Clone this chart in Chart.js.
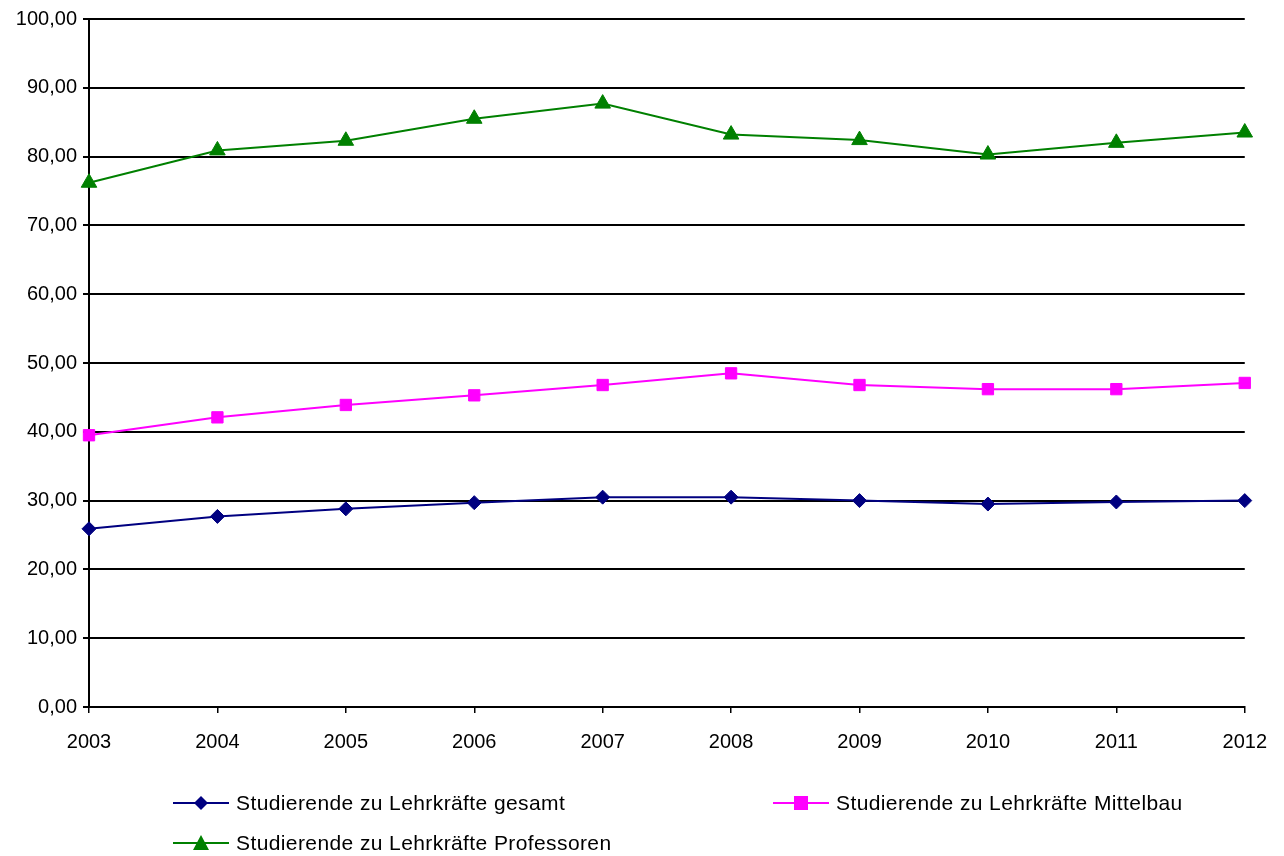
<!DOCTYPE html>
<html>
<head>
<meta charset="utf-8">
<script src="https://cdn.jsdelivr.net/npm/chart.js@4.4.1/dist/chart.umd.min.js"></script>
<style>
  html, body { margin: 0; padding: 0; background: #fff; }
  #wrap { position: relative; width: 1284px; height: 856px; }
  #legend { position: absolute; left: 0; top: 0; width: 1284px; height: 856px; pointer-events: none;
    font-family: Arial, "Liberation Sans", sans-serif; font-size: 21px; letter-spacing: 0.4px; color: #000; }
  .item { position: absolute; display: flex; align-items: center; white-space: nowrap; }
  .item svg { margin-right: 7px; }
</style>
</head>
<body>
<div id="wrap">
  <canvas id="chart" width="1284" height="856"></canvas>
  <div id="legend"></div>
</div>
<script>
const years = ['2003', '2004', '2005', '2006', '2007', '2008', '2009', '2010', '2011', '2012'];
const gesamt = [25.9, 27.7, 28.8, 29.7, 30.5, 30.5, 30.0, 29.5, 29.8, 30.0];
const mittelbau = [39.5, 42.1, 43.9, 45.3, 46.8, 48.5, 46.8, 46.2, 46.2, 47.1];
const professoren = [76.2, 80.9, 82.3, 85.5, 87.7, 83.2, 82.4, 80.3, 82.0, 83.5];
const seriesNames = [
  'Studierende zu Lehrkräfte gesamt',
  'Studierende zu Lehrkräfte Mittelbau',
  'Studierende zu Lehrkräfte Professoren'
];

const FONT = 'Arial, "Liberation Sans", sans-serif';

const datasets = [
  { label: seriesNames[0], data: gesamt, borderColor: '#000080', backgroundColor: '#000080',
    pointStyle: 'rectRot', pointRadius: 7 },
  { label: seriesNames[1], data: mittelbau, borderColor: '#FF00FF', backgroundColor: '#FF00FF',
    pointStyle: 'rect', pointRadius: 8 },
  { label: seriesNames[2], data: professoren, borderColor: '#008000', backgroundColor: '#008000',
    pointStyle: 'triangle', pointRadius: 9 }
].map(d => Object.assign(d, { borderWidth: 2, tension: 0, pointBorderWidth: 1, pointBorderColor: d.borderColor }));

new Chart(document.getElementById('chart'), {
  type: 'line',
  data: { labels: years, datasets },
  options: {
    responsive: false,
    animation: false,
    layout: { padding: { left: 0, right: 39, top: 19, bottom: 99 } },
    plugins: { legend: { display: false }, tooltip: { enabled: false } },
    scales: {
      x: {
        offset: false,
        grid: { drawOnChartArea: false, tickLength: 6, color: '#000', lineWidth: 1.5 },
        border: { color: '#000', width: 2 },
        ticks: { color: '#000', font: { family: FONT, size: 20 }, padding: 17, maxRotation: 0 },
        afterFit: s => { s.height = 50; }
      },
      y: {
        min: 0, max: 100,
        ticks: { stepSize: 10, color: '#000', font: { family: FONT, size: 20 }, padding: 6,
          callback: v => v.toFixed(2).replace('.', ',') },
        grid: { color: '#000', lineWidth: 2, tickLength: 6 },
        border: { color: '#000', width: 2 },
        afterFit: s => { s.width = 89; }
      }
    }
  }
});

// legend in two columns like the original
const legendPos = [
  { x: 173, y: 803 },
  { x: 773, y: 803 },
  { x: 173, y: 843 }
];
const markers = [
  '<polygon points="28,3 35,10 28,17 21,10" fill="#000080"/>',
  '<rect x="21" y="3" width="14" height="14" fill="#FF00FF"/>',
  '<polygon points="28,2 36,17 20,17" fill="#008000"/>'
];
const legend = document.getElementById('legend');
datasets.forEach((d, i) => {
  const el = document.createElement('div');
  el.className = 'item';
  el.style.left = legendPos[i].x + 'px';
  el.style.top = (legendPos[i].y - 12) + 'px';
  el.innerHTML = `<svg width="56" height="20"><line x1="0" y1="10" x2="56" y2="10" stroke="${d.borderColor}" stroke-width="2"/>${markers[i]}</svg><span>${d.label}</span>`;
  legend.appendChild(el);
});
</script>
</body>
</html>
